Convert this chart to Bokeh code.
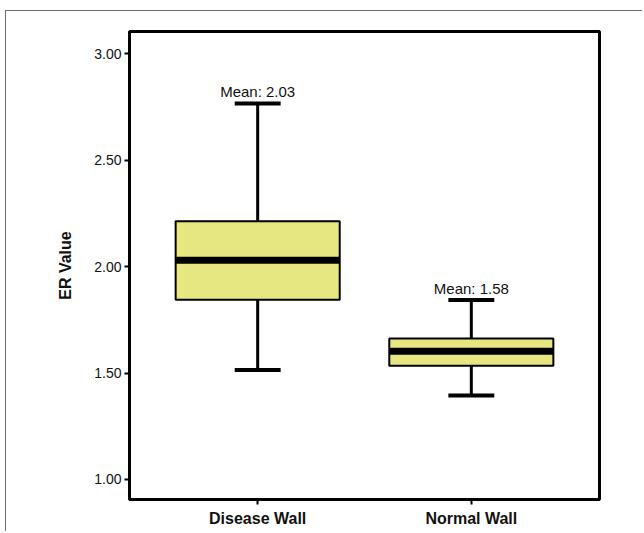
from bokeh.plotting import figure
from bokeh.models import FactorRange, FixedTicker, ColumnDataSource
from bokeh.core.properties import value
from bokeh.embed import file_html
from bokeh.resources import INLINE

# ---- data ----
categories = ["Disease Wall", "Normal Wall"]
whisker_low = [1.515, 1.395]
q1 = [1.845, 1.535]
median = [2.03, 1.603]
q3 = [2.213, 1.662]
whisker_high = [2.767, 1.843]
means = [2.03, 1.58]
y_ticks = [1.0, 1.5, 2.0, 2.5, 3.0]

mean_labels = ["Mean: %.2f" % m for m in means]

src = ColumnDataSource(dict(cat=categories, lo=whisker_low, q1=q1, med=median,
                            q3=q3, hi=whisker_high, lab=mean_labels))

FONT = "Liberation Sans"

p = figure(width=637, height=521, x_range=FactorRange(*categories, range_padding=0.1),
           y_range=(0.906, 3.105), output_backend="svg", toolbar_location=None,
           min_border_left=123, min_border_right=44, min_border_top=20, min_border_bottom=33)
p.styles = {"margin-top": "10px", "margin-left": "5px",
            "border-top": "1px solid #6e6e6e", "border-left": "1px solid #6e6e6e"}

p.xgrid.visible = False
p.ygrid.visible = False
p.outline_line_color = "black"
p.outline_line_width = 3
p.background_fill_color = "white"
p.border_fill_color = "white"

# whiskers
p.segment(x0="cat", y0="q3", x1="cat", y1="hi", source=src, line_color="black", line_width=3)
p.segment(x0="cat", y0="lo", x1="cat", y1="q1", source=src, line_color="black", line_width=3)
# caps
p.rect(x="cat", y="hi", width=0.215, height=4, height_units="screen", source=src,
       fill_color="black", line_color=None)
p.rect(x="cat", y="lo", width=0.215, height=4, height_units="screen", source=src,
       fill_color="black", line_color=None)
# boxes
p.vbar(x="cat", bottom="q1", top="q3", width=0.768, source=src,
       fill_color="#e7e782", line_color="black", line_width=2)
# medians
p.rect(x="cat", y="med", width=0.768, height=7, height_units="screen", source=src,
       fill_color="black", line_color=None)
# mean labels
p.text(x="cat", y="hi", text="lab", source=src, text_align="center", text_baseline="bottom",
       y_offset=-3, text_font_size="15px", text_color="#111111", text_font=value(FONT))

# axes
p.yaxis.ticker = FixedTicker(ticks=y_ticks)
p.yaxis.major_label_overrides = {t: "%.2f" % t for t in y_ticks}
p.yaxis.axis_label = "ER Value"
p.yaxis.minor_tick_line_color = None
for ax in (p.xaxis[0], p.yaxis[0]):
    ax.axis_line_color = "black"
    ax.axis_line_width = 2
    ax.major_tick_line_color = "black"
    ax.major_tick_line_width = 2
    ax.major_tick_out = 5
    ax.major_tick_in = 0
    ax.major_label_text_font = FONT
    ax.major_label_text_color = "#111111"
    ax.axis_label_text_font = FONT
    ax.axis_label_text_font_style = "bold"
    ax.axis_label_text_font_size = "16px"
    ax.axis_label_text_color = "#111111"
p.yaxis.major_label_text_font_size = "14px"
p.yaxis.major_label_standoff = 3
p.yaxis.axis_label_standoff = 17
p.xaxis.major_label_text_font_size = "16px"
p.xaxis.major_label_text_font_style = "bold"
p.xaxis.major_label_standoff = 5

open("out.html", "w").write(file_html(p, INLINE))
